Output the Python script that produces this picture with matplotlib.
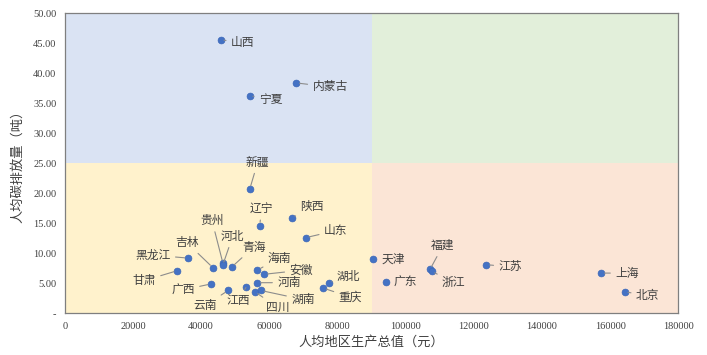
import matplotlib.pyplot as plt
from matplotlib.ticker import FuncFormatter

plt.rcParams['font.family'] = ['Liberation Serif', 'Noto Sans CJK SC']

# per-capita GDP (yuan) vs per-capita carbon emissions (tonnes)
provinces = ['山西', '内蒙古', '宁夏', '新疆', '辽宁', '陕西', '山东', '吉林', '黑龙江', '甘肃',
             '贵州', '河北', '青海', '广西', '云南', '江西', '海南', '安徽', '河南', '四川',
             '湖南', '湖北', '重庆', '天津', '广东', '福建', '浙江', '江苏', '上海', '北京']
gdp = [45724, 67852, 54217, 54280, 57191, 66649, 70653, 43475, 36183, 32995,
       46433, 46348, 48981, 42964, 47944, 53164, 56507, 58496, 56388, 55774,
       57540, 77387, 75828, 90371, 94172, 107139, 107624, 123607, 157279, 164220]
carbon = [45.6, 38.4, 36.3, 20.7, 14.6, 15.9, 12.6, 7.6, 9.2, 7.1,
          8.3, 8.0, 7.7, 4.9, 3.8, 4.3, 7.2, 6.5, 5.1, 3.6,
          3.8, 5.1, 4.2, 9.0, 5.2, 7.3, 7.0, 8.1, 6.7, 3.6]

x_split, y_split = 90000, 25
x_max, y_max = 180000, 50

# label offsets in pixels (dx, dy)
offsets = {
    '山西': (22, -3), '内蒙古': (34, -4), '宁夏': (21, -4), '新疆': (8, 27),
    '辽宁': (2, 17), '陕西': (20, 11), '山东': (30, 7), '吉林': (-26, 25),
    '黑龙江': (-35, 3), '甘肃': (-33, -10), '贵州': (-11, 43), '河北': (10, 29),
    '青海': (22, 20), '广西': (-28, -6), '云南': (-23, -15), '江西': (-8, -13),
    '海南': (22, 12), '安徽': (37, 4), '河南': (32, 0), '四川': (23, -16),
    '湖南': (42, -9), '湖北': (20, 6), '重庆': (27, -9), '天津': (20, 0),
    '广东': (20, 0), '福建': (13, 24), '浙江': (22, -11), '江苏': (24, -2),
    '上海': (26, 0), '北京': (23, -4),
}
no_leader = ['天津', '广东']

fig = plt.figure(figsize=(7.07, 3.55), dpi=100)
ax = fig.add_axes([0.0915, 0.1175, 0.868, 0.845])

ax.fill_between([0, x_split], y_split, y_max, color='#dae3f3', lw=0)
ax.fill_between([x_split, x_max], y_split, y_max, color='#e2efda', lw=0)
ax.fill_between([0, x_split], 0, y_split, color='#fff2cc', lw=0)
ax.fill_between([x_split, x_max], 0, y_split, color='#fbe5d6', lw=0)

ax.scatter(gdp, carbon, s=24, color='#4472c4', edgecolor='#3a66b8', linewidth=0.5, zorder=3)

for name, x, y in zip(provinces, gdp, carbon):
    dx, dy = offsets[name]
    arrow = None if name in no_leader else dict(arrowstyle='-', color='#8c8c8c', lw=0.8,
                                                 shrinkA=1.5, shrinkB=2.5)
    ax.annotate(name, (x, y), xytext=(dx, dy), textcoords='offset pixels',
                ha='center', va='center', fontsize=8.5, color='#404040',
                family=['Noto Sans CJK SC'], arrowprops=arrow, zorder=4)

ax.set_xlim(0, x_max)
ax.set_ylim(0, y_max)
ax.set_xticks(range(0, x_max + 1, 20000))
ax.set_yticks(range(0, y_max + 1, 5))
ax.yaxis.set_major_formatter(FuncFormatter(lambda v, p: '-' if v == 0 else '{:.2f}'.format(v)))
ax.tick_params(length=0, labelsize=7.5, colors='#404040', pad=6)

for s in ax.spines.values():
    s.set_color('#7f7f7f')
    s.set_linewidth(0.9)

ax.set_xlabel('人均地区生产总值（元）', family=['Noto Sans CJK SC'], fontsize=9.5, color='#404040', labelpad=4)
ax.set_ylabel('人均碳排放量（吨）', family=['Noto Sans CJK SC'], fontsize=9.5, color='#404040', labelpad=6)

fig.savefig('out.png', dpi=100)
